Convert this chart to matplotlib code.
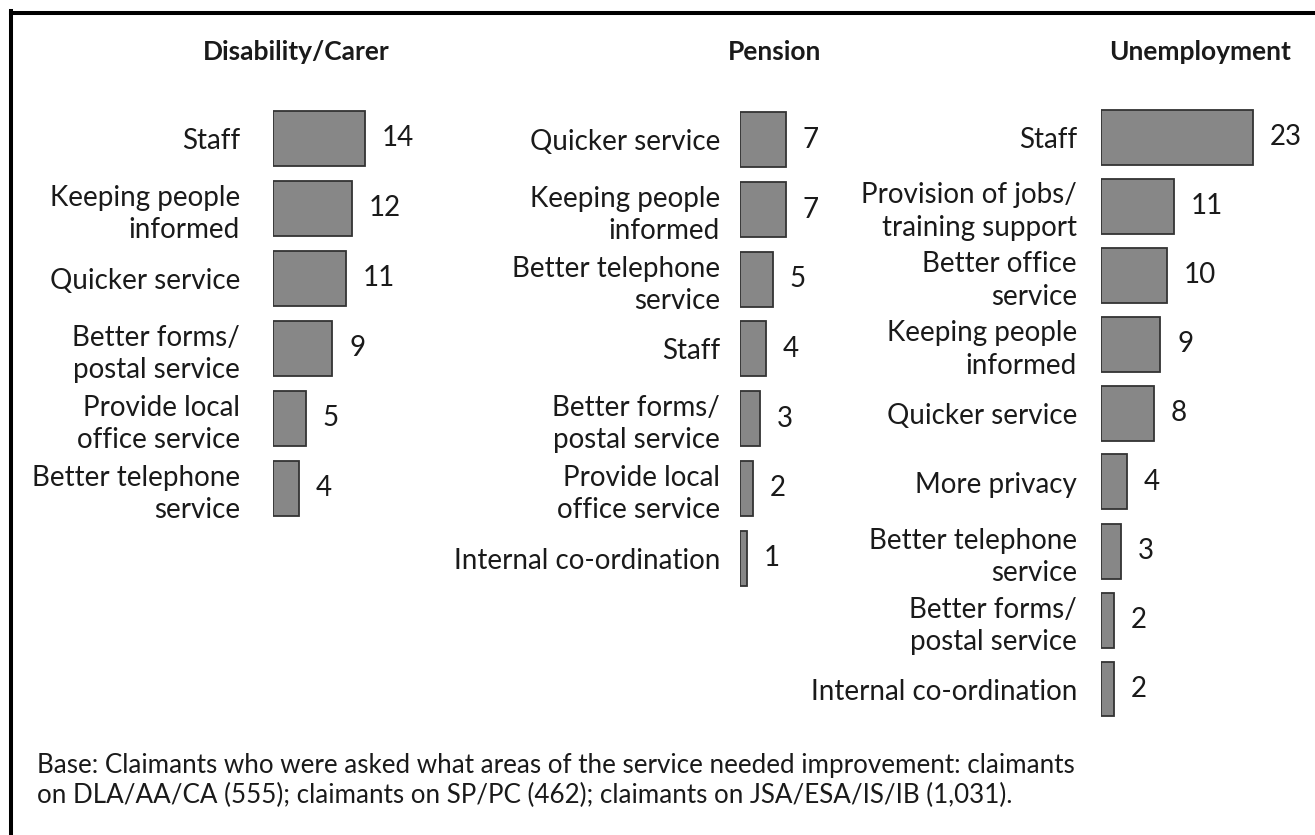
import matplotlib
matplotlib.use("Agg")
import matplotlib.pyplot as plt
from matplotlib.lines import Line2D

plt.rcParams["font.family"] = ["Lato", "DejaVu Sans"]

BAR_FILL = "#878787"
BAR_EDGE = "#333333"
TEXT = "#1a1a1a"

W, H = 1315, 835
PX_PER_UNIT = 6.6

# data
dis_labels = ["Staff", "Keeping people\ninformed", "Quicker service",
              "Better forms/\npostal service", "Provide local\noffice service",
              "Better telephone\nservice"]
dis_values = [14, 12, 11, 9, 5, 4]

pen_labels = ["Quicker service", "Keeping people\ninformed", "Better telephone\nservice",
              "Staff", "Better forms/\npostal service", "Provide local\noffice service",
              "Internal co-ordination"]
pen_values = [7, 7, 5, 4, 3, 2, 1]

unemp_labels = ["Staff", "Provision of jobs/\ntraining support", "Better office\nservice",
                "Keeping people\ninformed", "Quicker service", "More privacy",
                "Better telephone\nservice", "Better forms/\npostal service",
                "Internal co-ordination"]
unemp_values = [23, 11, 10, 9, 8, 4, 3, 2, 2]

titles = ["Disability/Carer", "Pension", "Unemployment"]

fig = plt.figure(figsize=(W / 100, H / 100), dpi=100)


def add_panel(labels, values, bar_left, row_top, spacing, label_pad):
    n = len(values)
    ax_w = 200
    ax_h = n * spacing
    ax = fig.add_axes([bar_left / W, 1 - (row_top + ax_h) / H, ax_w / W, ax_h / H])
    ypos = list(range(n))
    ax.barh(ypos, values, height=55 / spacing, color=BAR_FILL,
            edgecolor=BAR_EDGE, linewidth=1.3)
    ax.set_xlim(0, ax_w / PX_PER_UNIT)
    ax.set_ylim(n - 0.5, -0.5)
    ax.set_yticks(ypos)
    ax.set_yticklabels(labels, fontsize=20, color=TEXT, linespacing=1.3)
    ax.tick_params(axis="y", length=0, pad=label_pad * 0.72)
    ax.set_xticks([])
    for s in ax.spines.values():
        s.set_visible(False)
    ax.patch.set_alpha(0)
    for y, v in zip(ypos, values):
        ax.annotate(str(v), (v, y), xytext=(12, 0), textcoords="offset points",
                    ha="left", va="center", fontsize=20, color=TEXT)
    return ax


add_panel(dis_labels, dis_values, 273, 103.5, 70, 33)
add_panel(pen_labels, pen_values, 740, 105, 69.7, 20)
add_panel(unemp_labels, unemp_values, 1101, 102.5, 69, 24)

for t, cx in zip(titles, [296, 775, 1200]):
    fig.text(cx / W, 1 - 52 / H, t, ha="center", va="center",
             fontsize=19, fontweight="bold", color=TEXT)

fig.text(37 / W, 1 - 765 / H,
         "Base: Claimants who were asked what areas of the service needed improvement: claimants",
         ha="left", va="center", fontsize=18.7, color=TEXT)
fig.text(37 / W, 1 - 795 / H,
         "on DLA/AA/CA (555); claimants on SP/PC (462); claimants on JSA/ESA/IS/IB (1,031).",
         ha="left", va="center", fontsize=18.7, color=TEXT)

# frame: left and top border
fig.add_artist(Line2D([11 / W, 11 / W], [0, 1 - 11 / H], transform=fig.transFigure,
                      color="black", linewidth=2.9, solid_capstyle="projecting"))
fig.add_artist(Line2D([11 / W, 1], [1 - 13 / H, 1 - 13 / H], transform=fig.transFigure,
                      color="black", linewidth=2.9, solid_capstyle="projecting"))

fig.savefig("out.png", dpi=100)
